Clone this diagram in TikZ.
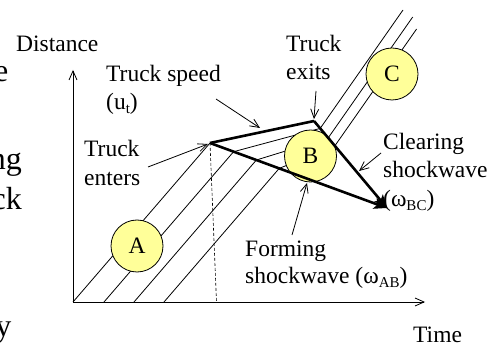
\documentclass[tikz,border=0pt]{standalone}
\usepackage{fontspec}
\setmainfont{Liberation Serif}
\usetikzlibrary{arrows.meta}
\newcommand\mysub[1]{\raisebox{-0.3ex}{\fontsize{15}{15}\selectfont #1}}
\definecolor{circfill}{HTML}{FFFF99}
\begin{document}
\begin{tikzpicture}[x=1pt,y=-1pt,
  font=\fontsize{23.5}{28}\selectfont,
  lbl/.style={inner sep=0pt, anchor=base west},
  frag/.style={inner sep=0pt, anchor=base east, font=\fontsize{32}{38}\selectfont},
  axisline/.style={line width=0.8pt, -{Straight Barb[length=9pt,width=8pt]}},
  veh/.style={line width=0.8pt},
  heavy/.style={line width=2.6pt},
  heavyarrow/.style={line width=2.6pt, -{Stealth[length=13pt,width=11pt,inset=3pt]}},
  note/.style={line width=0.8pt, -{Straight Barb[length=9pt,width=8pt]}},
  state/.style={circle, draw=black, line width=0.8pt, fill=circfill, minimum size=52pt, inner sep=0pt}
]
\useasboundingbox (0,0) rectangle (490,347);
% clipped fragments of slide text at left edge
\node[frag] (f1) at (8.5,82) {e};
\node[frag] (f2) at (22,170) {ng};
\node[frag] (f3) at (22,210) {ck};
\node[frag] (f4) at (11.5,337) {y};

% key points
\coordinate (O) at (73,302);
\coordinate (Ytop) at (73,70);
\coordinate (Xend) at (425,302);
\coordinate (P) at (210,143);
\coordinate (Q) at (314,121);
\coordinate (R) at (387,208);
\coordinate (Pd) at (216.5,302);

% vehicle trajectories
\coordinate (s2) at (104,302); \coordinate (a2) at (233.6,151.7); \coordinate (b2) at (320.2,128.4); \coordinate (t2) at (403,10);
\coordinate (s3) at (134,302); \coordinate (a3) at (256.4,160.0); \coordinate (b3) at (328.2,137.9); \coordinate (t3) at (412.7,17);
\coordinate (s4) at (164,302); \coordinate (a4) at (279.2,168.4); \coordinate (b4) at (334.9,145.8); \coordinate (t4) at (416.6,29);
\draw[veh] (O) -- (P);
\draw[veh] (s2) -- (a2) -- (b2) -- (t2);
\draw[veh] (s3) -- (a3) -- (b3) -- (t3);
\draw[veh] (s4) -- (a4) -- (b4) -- (t4);
\draw[line width=0.6pt, dash pattern=on 3pt off 2pt] (P) -- (Pd);

% axes
\draw[axisline] (O) -- (Ytop);
\draw[axisline] (O) -- (Xend);

% states
\node[state] (A) at (137,246) {A};
\node[state] (B) at (310.5,156) {B};
\node[state] (C) at (392,74) {C};

% truck and shockwaves
\draw[heavy] (P) -- (Q);
\draw[heavyarrow] (P) -- (R);
\draw[heavyarrow] (Q) -- (R);

% labels
\node[lbl] (dist) at (16,52) {Distance};
\node[lbl] (time) at (413,343) {Time};
\node[lbl] (ts1) at (106,82) {Truck speed};
\node[lbl] (ts2) at (106,110) {(u\mysub{t})};
\node[lbl] (te1) at (84,157) {Truck};
\node[lbl] (te2) at (84,186) {enters};
\node[lbl] (tx1) at (286,52) {Truck};
\node[lbl] (tx2) at (286,80) {exits};
\node[lbl] (cl1) at (383,150) {Clearing};
\node[lbl] (cl2) at (383,178) {shockwave};
\node[lbl] (cl3) at (383,207) {(ω\mysub{BC})};
\node[lbl] (fo1) at (245,257) {Forming};
\node[lbl] (fo2) at (245,284) {shockwave (ω\mysub{AB})};

% annotation arrows
\coordinate (nTs) at (216,99);   \coordinate (hTs) at (260,128);
\coordinate (nTx) at (316,91);   \coordinate (hTx) at (314,119);
\coordinate (nTe) at (148,167);  \coordinate (hTe) at (208,144);
\coordinate (nCl) at (381,153);  \coordinate (hCl) at (359,171);
\coordinate (nFo) at (292,235);  \coordinate (hFo) at (307,183);
\draw[note] (nTs) -- (hTs);
\draw[note] (nTx) -- (hTx);
\draw[note] (nTe) -- (hTe);
\draw[note] (nCl) -- (hCl);
\draw[note] (nFo) -- (hFo);
\end{tikzpicture}
\end{document}
